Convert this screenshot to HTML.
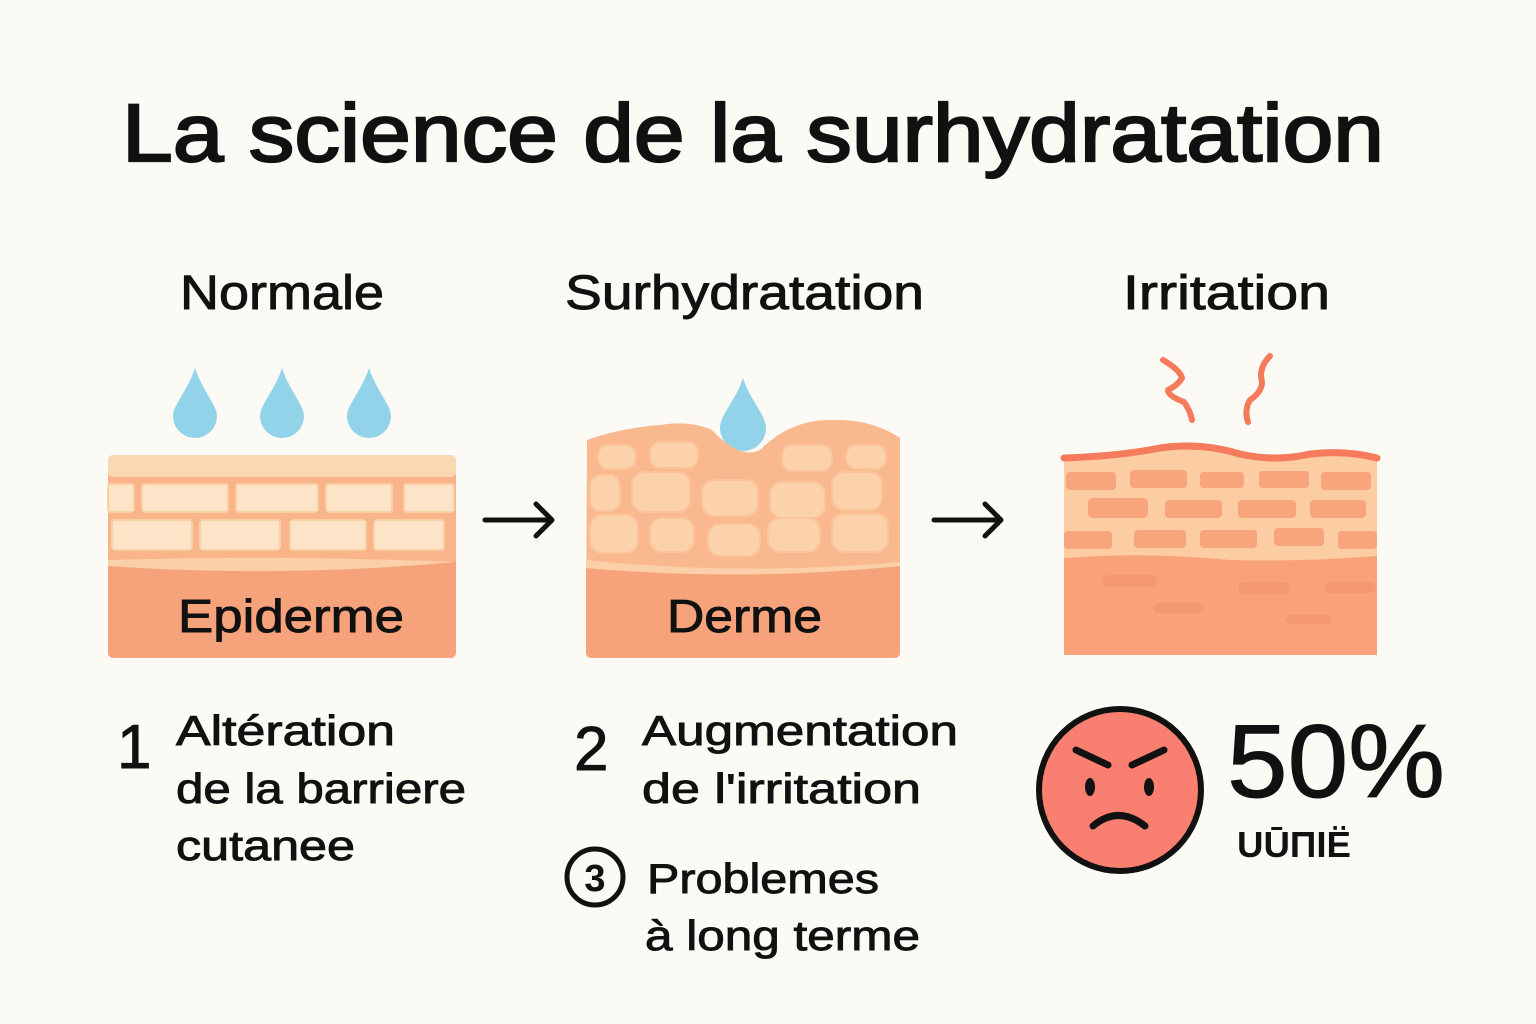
<!DOCTYPE html>
<html><head><meta charset="utf-8"><style>
html,body{margin:0;padding:0;background:#fcfaf5;}
svg{display:block;font-family:"Liberation Sans","DejaVu Sans",sans-serif;}
.m{stroke:#111;stroke-width:0.9px;}
</style></head><body>
<svg width="1536" height="1024" viewBox="0 0 1536 1024" xmlns="http://www.w3.org/2000/svg">
<rect width="1536" height="1024" fill="#fcfaf5"/>
<text x="122" y="161" font-size="82" fill="#111" stroke="#111" stroke-width="2.2" textLength="1262" lengthAdjust="spacingAndGlyphs">La science de la surhydratation</text>
<g font-size="48" fill="#111" class="m">
<text x="180" y="309" textLength="204" lengthAdjust="spacingAndGlyphs">Normale</text>
<text x="565" y="309" textLength="359" lengthAdjust="spacingAndGlyphs">Surhydratation</text>
<text x="1123" y="309" textLength="207" lengthAdjust="spacingAndGlyphs">Irritation</text>
</g>
<!-- drops -->
<g fill="#93d3ea">
<path d="M195 368 C188 390 173 405 173 416 A22 22 0 0 0 217 416 C217 405 202 390 195 368Z"/>
<path d="M282 368 C275 390 260 405 260 416 A22 22 0 0 0 304 416 C304 405 289 390 282 368Z"/>
<path d="M369 368 C362 390 347 405 347 416 A22 22 0 0 0 391 416 C391 405 376 390 369 368Z"/>
<path d="M743 378 C736 400 720 415 720 428 A23 23 0 0 0 766 428 C766 415 750 400 743 378Z"/>
</g>
<!-- panel 1 -->
<rect x="108" y="455" width="348" height="203" rx="6" fill="#f9b48a"/>
<rect x="108" y="455" width="348" height="22" rx="5" fill="#fbd7b2"/>
<g fill="#fde4c8" stroke="#f9cfa5" stroke-width="2">
<rect x="108" y="484" width="26" height="28" rx="3"/><rect x="142" y="484" width="86" height="28" rx="3"/><rect x="236" y="484" width="82" height="28" rx="3"/><rect x="326" y="484" width="66" height="28" rx="3"/><rect x="404" y="484" width="50" height="28" rx="3"/>
<rect x="112" y="520" width="80" height="30" rx="3"/><rect x="200" y="520" width="80" height="30" rx="3"/><rect x="290" y="520" width="76" height="30" rx="3"/><rect x="374" y="520" width="70" height="30" rx="3"/>
</g>
<path d="M108 560 Q280 555 456 562 L456 574 L108 572Z" fill="#fbd0a8"/>
<path d="M108 566 Q280 578 456 562 L456 652 Q456 658 450 658 L114 658 Q108 658 108 652Z" fill="#f6a37b"/>
<text x="178" y="632" font-size="46" fill="#111" class="m" textLength="226" lengthAdjust="spacingAndGlyphs">Epiderme</text>
<!-- arrows -->
<g stroke="#111" stroke-width="5" fill="none" stroke-linecap="round" stroke-linejoin="round">
<path d="M485 520 H550 M536 504 L552 520 L536 536"/>
<path d="M934 520 H999 M985 504 L1001 520 L985 536"/>
</g>
<!-- panel 2 -->
<path d="M587 440 Q620 428 660 425 Q690 420 712 430 Q740 460 760 450 Q790 420 830 420 Q870 418 900 438 L900 652 Q900 658 894 658 L592 658 Q586 658 586 652Z" fill="#f9b88e"/>
<g fill="#fcd2aa" stroke="#fbc49a" stroke-width="2">
<rect x="598" y="445" width="38" height="24" rx="10"/><rect x="650" y="442" width="48" height="26" rx="10"/><rect x="782" y="445" width="50" height="26" rx="10"/><rect x="846" y="445" width="40" height="24" rx="10"/>
<rect x="590" y="475" width="30" height="36" rx="10"/><rect x="632" y="472" width="58" height="40" rx="12"/><rect x="702" y="480" width="56" height="36" rx="12"/><rect x="770" y="482" width="55" height="36" rx="12"/><rect x="832" y="472" width="50" height="38" rx="12"/>
<rect x="590" y="515" width="48" height="38" rx="12"/><rect x="650" y="518" width="44" height="34" rx="12"/><rect x="708" y="524" width="52" height="32" rx="12"/><rect x="768" y="518" width="52" height="34" rx="12"/><rect x="832" y="514" width="56" height="38" rx="12"/>
</g>
<path d="M586 560 Q740 576 900 562 L900 572 Q740 585 586 570Z" fill="#fbd0a8"/>
<path d="M586 568 Q740 582 900 566 L900 652 Q900 658 894 658 L592 658 Q586 658 586 652Z" fill="#f6a37b"/>
<text x="667" y="632" font-size="46" fill="#111" class="m" textLength="155" lengthAdjust="spacingAndGlyphs">Derme</text>
<!-- panel 3 -->
<path d="M1064 456 Q1120 454 1160 446 Q1200 440 1240 452 Q1275 460 1310 452 Q1345 448 1377 456 L1377 655 L1064 655Z" fill="#fccca2"/>
<path d="M1064 458 Q1120 456 1160 448 Q1200 442 1240 454 Q1275 462 1310 454 Q1345 450 1377 458" stroke="#f57b5c" stroke-width="7" fill="none" stroke-linecap="round"/>
<g fill="#f8a47c">
<rect x="1066" y="472" width="50" height="18" rx="4"/><rect x="1130" y="470" width="57" height="18" rx="4"/><rect x="1200" y="472" width="44" height="16" rx="4"/><rect x="1259" y="471" width="50" height="17" rx="4"/><rect x="1321" y="472" width="50" height="18" rx="4"/>
<rect x="1088" y="498" width="60" height="20" rx="5"/><rect x="1165" y="500" width="57" height="18" rx="4"/><rect x="1238" y="500" width="58" height="18" rx="4"/><rect x="1310" y="500" width="56" height="18" rx="4"/>
<rect x="1064" y="531" width="48" height="18" rx="4"/><rect x="1134" y="530" width="52" height="18" rx="4"/><rect x="1200" y="530" width="57" height="18" rx="4"/><rect x="1274" y="528" width="50" height="18" rx="4"/><rect x="1338" y="531" width="39" height="18" rx="4"/>
</g>
<path d="M1064 558 Q1150 552 1230 560 Q1300 562 1377 556 L1377 655 L1064 655Z" fill="#f9a27a"/>
<g fill="#f2936c" opacity="0.6">
<rect x="1102" y="575" width="55" height="12" rx="6"/><rect x="1238" y="582" width="52" height="12" rx="6"/><rect x="1324" y="582" width="52" height="11" rx="6"/><rect x="1153" y="603" width="50" height="10" rx="5"/><rect x="1286" y="615" width="45" height="9" rx="5"/>
</g>
<g stroke="#f57b5c" stroke-width="6" fill="none" stroke-linecap="round" stroke-linejoin="round">
<path d="M1163 360 Q1180 370 1182 378 Q1178 385 1168 390 Q1168 396 1184 402 Q1190 410 1192 420"/>
<path d="M1270 356 Q1258 368 1262 382 Q1262 392 1250 400 Q1244 410 1248 422"/>
</g>
<!-- bottom text -->
<g fill="#111" class="m">
<text x="117" y="768" font-size="62">1</text>
<g font-size="42"><text x="176" y="745" textLength="219" lengthAdjust="spacingAndGlyphs">Altération</text><text x="176" y="803" textLength="290" lengthAdjust="spacingAndGlyphs">de la barriere</text><text x="176" y="860" textLength="179" lengthAdjust="spacingAndGlyphs">cutanee</text></g>
<text x="574" y="770" font-size="62">2</text>
<g font-size="42"><text x="642" y="745" textLength="316" lengthAdjust="spacingAndGlyphs">Augmentation</text><text x="642" y="803" textLength="279" lengthAdjust="spacingAndGlyphs">de l'irritation</text></g>
<g font-size="42"><text x="647" y="893" textLength="232" lengthAdjust="spacingAndGlyphs">Problemes</text><text x="645" y="950" textLength="275" lengthAdjust="spacingAndGlyphs">à long terme</text></g>
</g>
<circle cx="595" cy="877" r="28" fill="none" stroke="#111" stroke-width="5"/>
<text x="595" y="891" font-size="38" text-anchor="middle" font-weight="bold" fill="#111">3</text>
<!-- face -->
<circle cx="1120" cy="790" r="81" fill="#f98070" stroke="#111" stroke-width="6"/>
<g stroke="#111" stroke-width="7" stroke-linecap="round" fill="none">
<path d="M1076 750 L1108 765"/><path d="M1164 750 L1132 765"/>
<path d="M1093 826 Q1118 805 1145 826"/>
</g>
<ellipse cx="1090" cy="787" rx="5" ry="9" fill="#111"/><ellipse cx="1149" cy="787" rx="5" ry="9" fill="#111"/>
<text x="1227" y="797" font-size="104" fill="#111" stroke="#111" stroke-width="1" textLength="218" lengthAdjust="spacingAndGlyphs">50%</text>
<text x="1237" y="857" font-size="36" font-weight="bold" fill="#111" textLength="114" lengthAdjust="spacingAndGlyphs">UŪΠIË</text>
</svg>
</body></html>
